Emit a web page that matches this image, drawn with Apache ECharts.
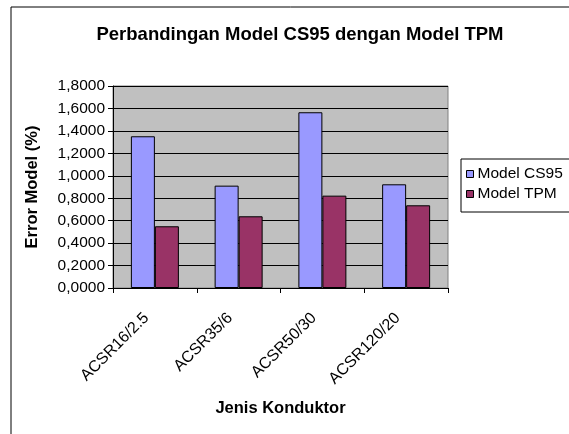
<!DOCTYPE html>
<html><head><meta charset="utf-8">
<script src="https://cdn.jsdelivr.net/npm/echarts@6/dist/echarts.min.js"></script>
<style>html,body{margin:0;padding:0;background:#fff}#c{width:569px;height:434px}</style>
</head><body><div id="c"></div>
<script>
var categories = ['ACSR16/2.5', 'ACSR35/6', 'ACSR50/30', 'ACSR120/20'];
var cs95 = [1.352, 0.912, 1.566, 0.924];
var tpm = [0.55, 0.639, 0.823, 0.737];
var seriesNames = ['Model CS95', 'Model TPM'];

var chart = echarts.init(document.getElementById('c'));
var fmt = function (v) { return v.toFixed(4).replace('.', ','); };
var FONT = 'Liberation Sans, Arial, sans-serif';
chart.setOption({
  animation: false,
  backgroundColor: '#fff',
  textStyle: { fontFamily: FONT, color: '#000' },
  title: {
    text: 'Perbandingan Model CS95 dengan Model TPM',
    left: 295, top: 20, textAlign: 'center',
    textStyle: { fontSize: 18.5, fontWeight: 'bold', color: '#000', fontFamily: FONT }
  },
  legend: {
    orient: 'vertical', left: 461, top: 159,
    padding: [7, 30, 10, 5],
    itemGap: 4,
    icon: 'rect', itemWidth: 7, itemHeight: 7,
    borderColor: '#000', borderWidth: 1,
    backgroundColor: '#fff',
    textStyle: { fontSize: 15.5, color: '#000', padding: [0, 0, 0, -1], fontFamily: FONT },
    itemStyle: { borderColor: '#000', borderWidth: 1 },
    data: seriesNames
  },
  grid: { left: 113, right: 121, top: 86, bottom: 146, show: true, backgroundColor: '#C0C0C0', borderColor: '#808080', borderWidth: 1 },
  xAxis: {
    type: 'category', data: categories,
    name: 'Jenis Konduktor', nameLocation: 'middle', nameGap: 112,
    nameTextStyle: { fontSize: 16.5, fontWeight: 'bold', color: '#000', fontFamily: FONT },
    axisLine: { lineStyle: { color: '#000' } },
    axisTick: { show: true, alignWithLabel: false, length: 5, lineStyle: { color: '#000' } },
    axisLabel: { rotate: 45, fontSize: 16, color: '#000', margin: 19, padding: [0, 12, 0, 0], fontFamily: FONT }
  },
  yAxis: {
    type: 'value', min: 0, max: 1.8, interval: 0.2,
    name: 'Error Model (%)', nameLocation: 'middle', nameGap: 72, nameRotate: 90,
    nameTextStyle: { fontSize: 16.5, fontWeight: 'bold', color: '#000', fontFamily: FONT },
    axisLine: { show: true, lineStyle: { color: '#000' } },
    axisTick: { show: true, length: 5, lineStyle: { color: '#000' } },
    axisLabel: { fontSize: 15.5, color: '#000', margin: 8, formatter: fmt, fontFamily: FONT },
    splitLine: { show: true, lineStyle: { color: '#000', width: 1 } }
  },
  series: [
    { name: seriesNames[0], type: 'bar', data: cs95, barWidth: 24, barGap: '0%',
      itemStyle: { color: '#9999FF', borderColor: '#000', borderWidth: 1 } },
    { name: seriesNames[1], type: 'bar', data: tpm, barWidth: 24, barGap: '0%',
      itemStyle: { color: '#993366', borderColor: '#000', borderWidth: 1 } }
  ],
  graphic: [
    { type: 'rect', left: 8.5, top: 4.5, shape: { width: 600, height: 600 }, style: { fill: null, stroke: '#000', lineWidth: 1 }, silent: true, z: -1 }
  ]
});
</script></body></html>
